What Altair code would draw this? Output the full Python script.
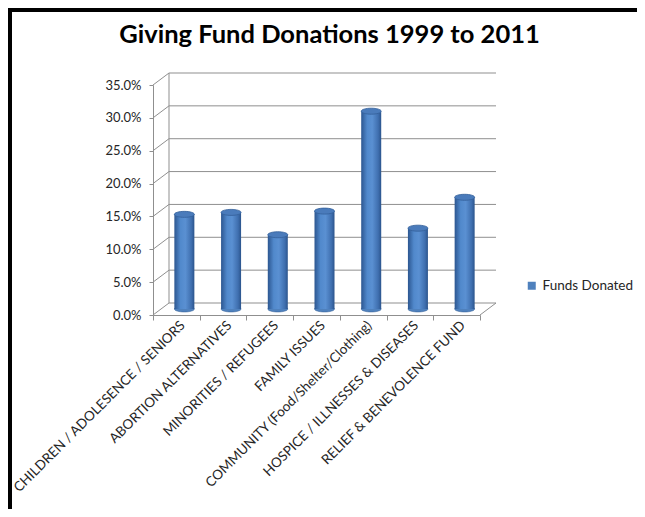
import altair as alt
import pandas as pd

categories = [
    "CHILDREN / ADOLESENCE / SENIORS",
    "ABORTION ALTERNATIVES",
    "MINORITIES / REFUGEES",
    "FAMILY ISSUES",
    "COMMUNITY (Food/Shelter/Clothing)",
    "HOSPICE / ILLNESSES & DISEASES",
    "RELIEF & BENEVOLENCE FUND",
]
values = [0.144, 0.147, 0.113, 0.149, 0.301, 0.123, 0.170]
series_name = "Funds Donated"
tick_values = [0.0, 0.05, 0.10, 0.15, 0.20, 0.25, 0.30, 0.35]

W, H = 327, 230
DX, DY = 16, -12  # 3D depth offset of back wall

df = pd.DataFrame({"cat": categories, "value": values, "series": [series_name] * len(categories)})
ticks = pd.DataFrame({"tick": tick_values})

yscale = alt.Scale(domain=[0, 0.35], nice=False, zero=True)
xscale = alt.Scale(domain=categories, paddingInner=0, paddingOuter=0)
GRID = "#8f8f8f"
FONT = "Lato"

yaxis = alt.Axis(
    values=tick_values, format=".1%", labelFontSize=13, labelFont=FONT,
    labelColor="#262626", domainColor=GRID, tickColor=GRID, tickSize=4,
    grid=False, labelPadding=8, title=None,
)

# back wall gridlines
grid = alt.Chart(ticks).mark_rule(color=GRID, strokeWidth=1, yOffset=DY).encode(
    y=alt.Y("tick:Q", scale=yscale, axis=yaxis, title=None),
    x=alt.value(DX), x2=alt.value(W + DX),
)
# side wall diagonals
diag = alt.Chart(ticks).mark_rule(color=GRID, strokeWidth=1, y2Offset=DY).encode(
    y=alt.Y("tick:Q", scale=yscale, axis=yaxis, title=None),
    y2="tick:Q",
    x=alt.value(0), x2=alt.value(DX),
)
one = pd.DataFrame({"a": [0.0], "b": [0.35]})
backv = alt.Chart(one).mark_rule(color=GRID, strokeWidth=1, yOffset=DY, y2Offset=DY).encode(
    y=alt.Y("a:Q", scale=yscale, axis=yaxis, title=None), y2="b:Q", x=alt.value(DX),
)
floor_r = alt.Chart(one).mark_rule(color=GRID, strokeWidth=1, y2Offset=DY).encode(
    y=alt.Y("a:Q", scale=yscale, axis=yaxis, title=None), y2="a:Q",
    x=alt.value(W), x2=alt.value(W + DX),
)

base = alt.Chart(df).encode(
    x=alt.X(
        "cat:N", scale=xscale, sort=categories, title=None,
        axis=alt.Axis(
            labelAngle=-45, labelAlign="right", labelBaseline="middle",
            labelFontSize=13.5, labelFont=FONT, labelColor="#262626",
            domainColor=GRID, tickColor=GRID, tickSize=5, tickBand="extent",
            labelPadding=3, labelLimit=400, labelOffset=6,
        ),
    ),
)

ELL = "M-1,0A1,0.3 0 1,0 1,0A1,0.3 0 1,0 -1,0Z"

bottom = base.mark_point(
    shape=ELL, size=400, filled=True,
    opacity=1, xOffset=8, yOffset=-6, stroke="#2f5a92", strokeWidth=0.5,
).encode(
    y=alt.Y("zero:Q", scale=yscale, axis=yaxis, title=None),
    color=alt.Color(
        "series:N", scale=alt.Scale(range=["#4F81BD"]),
        legend=alt.Legend(
            title=None, orient="none", legendX=372, legendY=194,
            symbolType="square", symbolSize=64, symbolStrokeWidth=0,
            labelFontSize=13.5, labelFont=FONT, labelColor="#262626",
        ),
    ),
).transform_calculate(zero="0")

grad = alt.Gradient(
    gradient="linear", x1=0, x2=1, y1=0, y2=0,
    stops=[
        alt.GradientStop(offset=0, color="#2c5690"),
        alt.GradientStop(offset=0.3, color="#5189cc"),
        alt.GradientStop(offset=0.55, color="#5a90d2"),
        alt.GradientStop(offset=0.85, color="#3f6faf"),
        alt.GradientStop(offset=1, color="#2b548c"),
    ],
)
body = base.mark_bar(size=20, fill=grad, xOffset=8, yOffset=-6, y2Offset=-6).encode(
    y=alt.Y("value:Q", scale=yscale, axis=yaxis, title=None),
    y2=alt.datum(0),
)

top = base.mark_point(
    shape=ELL, size=400, filled=True,
    opacity=1, fill="#4a7bbb", stroke="#335f99", strokeWidth=0.8, xOffset=8, yOffset=-6,
).encode(y=alt.Y("value:Q", scale=yscale, axis=yaxis, title=None))

# outer frame (top and left thick edges)
frame_df = pd.DataFrame({"k": [0]})
frame_top = alt.Chart(frame_df).mark_rule(color="black", strokeWidth=4).encode(
    x=alt.value(-145), x2=alt.value(W + 157), y=alt.value(-75),
)
frame_left = alt.Chart(frame_df).mark_rule(color="black", strokeWidth=4).encode(
    x=alt.value(-143), y=alt.value(-77), y2=alt.value(H + 194),
)

chart = alt.layer(
    grid, diag, backv, floor_r, bottom, body, top, frame_top, frame_left
).properties(
    width=W, height=H,
    autosize=alt.AutoSizeParams(type="none"),
    padding={"left": 145, "top": 77, "right": 157, "bottom": 194},
    title=alt.TitleParams(
        "Giving Fund Donations 1999 to 2011", font=FONT, fontSize=25.5, fontWeight="bold",
        color="black", anchor="middle", dx=13, offset=-42,
    ),
).configure_view(stroke=None)

chart.save("out.html", embed_options={"renderer": "svg", "actions": False})
